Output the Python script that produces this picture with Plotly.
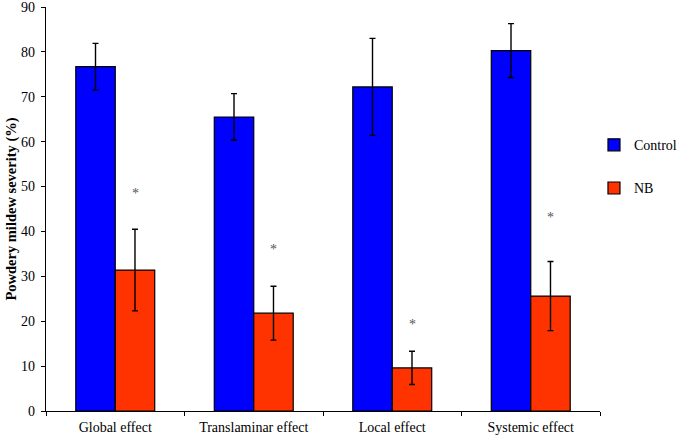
import plotly.graph_objects as go

categories = ["Global effect", "Translaminar effect", "Local effect", "Systemic effect"]
control_vals = [76.7, 65.5, 72.2, 80.3]
control_err = [5.2, 5.2, 10.8, 6.0]
nb_vals = [31.4, 21.8, 9.6, 25.6]
nb_err = [9.1, 6.0, 3.7, 7.7]
star_y = [48.5, 36.0, 19.3, 43.0]
star_text = ["*", "*", "*", "*"]

FONT = "Liberation Serif, Times New Roman, serif"

fig = go.Figure()
fig.add_trace(go.Bar(
    x=categories, y=control_vals, name="Control", legendgroup="a",
    marker=dict(color="#0000FF", line=dict(color="black", width=1.2)),
    error_y=dict(type="data", array=control_err, visible=True, color="black", thickness=1.4, width=3),
))
fig.add_trace(go.Bar(
    x=categories, y=nb_vals, name="NB", legendgroup="b",
    marker=dict(color="#FF3300", line=dict(color="black", width=1.2)),
    error_y=dict(type="data", array=nb_err, visible=True, color="black", thickness=1.4, width=3),
))

for c, sy, st in zip(categories, star_y, star_text):
    fig.add_annotation(x=c, y=sy, text=st, showarrow=False, xref="x", yref="y",
                       xshift=20, font=dict(family=FONT, size=14, color="#555555"))

fig.update_layout(
    width=680, height=438,
    margin=dict(l=46, r=80, t=7, b=27, autoexpand=False),
    paper_bgcolor="white", plot_bgcolor="white",
    barmode="group", bargap=0.43, bargroupgap=0,
    font=dict(family=FONT, size=13, color="black"),
    showlegend=True,
    legend=dict(xref="container", yref="container", x=0.8735, y=0.705, xanchor="left", yanchor="top",
                traceorder="grouped", tracegroupgap=22, font=dict(family=FONT, size=14),
                bgcolor="rgba(0,0,0,0)", itemwidth=30),
    xaxis=dict(range=[-0.5, 3.5], showline=True, linecolor="black", linewidth=1.2,
               ticks="outside", tickson="boundaries", ticklen=4, tickcolor="black",
               ticklabelstandoff=3,
               showgrid=False, automargin=False, tickfont=dict(family=FONT, size=14)),
    yaxis=dict(range=[0, 90], dtick=10, showline=True, linecolor="black", linewidth=1.2,
               ticks="outside", ticklen=4, tickcolor="black", showgrid=False, zeroline=False,
               automargin=False, ticklabeloverflow="allow", ticklabelstandoff=3,
               tickfont=dict(family=FONT, size=14),
               title=dict(text="<b>Powdery mildew severity (%)</b>", font=dict(family=FONT, size=14.5),
                          standoff=1)),
)

fig.write_html("out.html", config={"displayModeBar": False},
               post_script="document.body.style.margin='0';document.body.style.padding='0';")
